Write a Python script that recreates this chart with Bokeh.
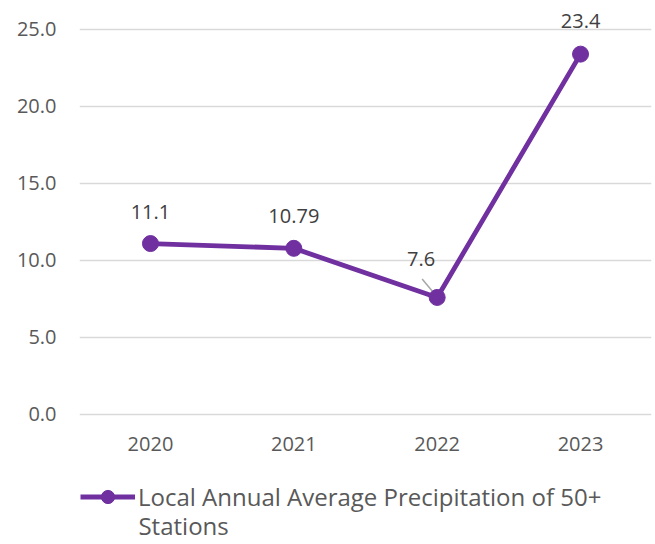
from bokeh.plotting import figure
from bokeh.models import Range1d, FixedTicker, Legend, LegendItem, NumeralTickFormatter, ColumnDataSource
from bokeh.embed import file_html
from bokeh.resources import INLINE
from bokeh.core.properties import value

years = ["2020", "2021", "2022", "2023"]
precip = [11.1, 10.79, 7.6, 23.4]
point_labels = ["11.1", "10.79", "7.6", "23.4"]
y_ticks = [0, 5, 10, 15, 20, 25]
series_line1 = "Local Annual Average Precipitation of 50+"
series_line2 = "Stations"

# style
PURPLE = "#7030A0"
FONT = "Open Sans"
label_dx = [0, 0, -16, 0]
label_dy = [-32, -32, -38, -33]

xs = list(range(len(years)))

p = figure(width=653, height=544, output_backend="svg", toolbar_location=None,
           x_range=Range1d(-0.495, 3.495), y_range=Range1d(-8.442, 26.883),
           x_axis_location=None,
           min_border_left=79, min_border_right=2, min_border_top=0, min_border_bottom=0)
p.outline_line_color = None
p.background_fill_color = "white"
p.border_fill_color = "white"

p.xgrid.visible = False
p.ygrid.grid_line_color = "#D9D9D9"
p.ygrid.grid_line_width = 1.3
p.yaxis.ticker = FixedTicker(ticks=y_ticks)
p.yaxis.formatter = NumeralTickFormatter(format="0.0")
ax = p.yaxis[0]
ax.axis_line_color = None
ax.major_tick_line_color = None
ax.minor_tick_line_color = None
ax.major_tick_out = 0
ax.major_tick_in = 0
ax.minor_tick_out = 0
ax.major_label_text_font = FONT
ax.major_label_text_font_size = "20px"
ax.major_label_text_color = "#595959"
ax.major_label_standoff = 23

src = ColumnDataSource(dict(x=xs, y=precip, lab=point_labels, dx=label_dx, dy=label_dy))

# category (year) labels under the zero line
p.text(xs, [0] * len(xs), text=years, y_offset=30, text_align="center",
       text_baseline="middle", text_font=value(FONT), text_font_size="20px",
       text_color="#595959")

# leader line for the 2022 label
p.segment(x0=xs[2] - 0.105, y0=precip[2] + 1.2, x1=xs[2] - 0.01, y1=precip[2] + 0.15,
          line_color="#A6A6A6", line_width=1.5)

line_r = p.line("x", "y", source=src, line_color=PURPLE, line_width=4.8)
pts_r = p.scatter("x", "y", source=src, size=16, fill_color=PURPLE, line_color=PURPLE)

p.text("x", "y", text="lab", source=src, x_offset="dx", y_offset="dy",
       text_align="center", text_baseline="middle", text_font=value(FONT),
       text_font_size="20px", text_color="#404040")

legend = Legend(items=[LegendItem(label=series_line1, renderers=[line_r, pts_r])],
                location=(1, 31), orientation="vertical")
legend.label_text_font = FONT
legend.label_text_font_size = "24px"
legend.label_text_color = "#595959"
legend.glyph_width = 55
legend.glyph_height = 33
legend.label_standoff = 3
legend.padding = 0
legend.margin = 0
legend.border_line_color = None
legend.background_fill_alpha = 0
p.add_layout(legend)

# wrapped second line of the legend label
p.text([xs[0]], [0], text=[series_line2], x_offset=-12, y_offset=111,
       text_align="left", text_baseline="middle", text_font=value(FONT),
       text_font_size="24px", text_color="#595959")

open("out.html", "w").write(file_html(p, INLINE))
